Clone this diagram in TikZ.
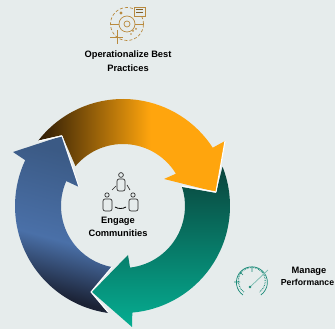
\documentclass[tikz,border=0pt]{standalone}
\usepackage{fontspec}
\setmainfont{Liberation Sans}
\definecolor{bgc}{HTML}{E6ECEC}
\definecolor{oa}{HTML}{2B1A05}
\definecolor{ob}{HTML}{FFA50D}
\definecolor{ga}{HTML}{0A443C}
\definecolor{gb}{HTML}{05AE92}
\definecolor{ba}{HTML}{3B5A85}
\definecolor{bb}{HTML}{4A70A8}
\definecolor{bc}{HTML}{1B2235}
\definecolor{ico}{HTML}{B98A3E}
\definecolor{tealic}{HTML}{1A8A78}
\pgfdeclarehorizontalshading{orangeg}{100bp}{color(0bp)=(oa);color(25bp)=(oa);color(55bp)=(ob);color(100bp)=(ob)}
\pgfdeclareverticalshading{greeng}{100bp}{color(0bp)=(gb);color(25bp)=(gb);color(75bp)=(ga);color(100bp)=(ga)}
\pgfdeclareverticalshading{blueg}{100bp}{color(0bp)=(bc);color(28bp)=(bc);color(45bp)=(bb);color(72bp)=(ba);color(100bp)=(ba)}
\tikzset{
  lbl/.style={font=\bfseries\fontsize{9.3}{11}\selectfont,text=black,inner sep=0pt,align=center},
  edgew/.style={white,line width=1.1pt,line join=round},
  goldic/.style={ico,line width=.7pt},
  blackic/.style={black!85,line width=.65pt},
  gaugeic/.style={tealic,line width=.7pt},
}
\begin{document}
\begin{tikzpicture}[x=1pt,y=1pt]
\fill[bgc] (0,0) rectangle (335,329);
\clip (0,0) rectangle (335,329);
\coordinate (C) at (123,123);
% green arrow
\shade[shading=greeng] ([shift={(21.5:107)}]C) arc[start angle=21.5,end angle=-85,radius=107]
  -- (132,2) -- (92,37) -- (128,74) -- ([shift={(-83.5:62)}]C) arc[start angle=-83.5,end angle=17.8,radius=62]
  -- (216,136) -- cycle;
% blue arrow
\shade[shading=blueg,shading angle=-15] ([shift={(262:108)}]C) arc[start angle=262,end angle=154.9,radius=108]
  -- (13,177) -- (62,193) -- (79,142) -- ([shift={(156.3:62)}]C) arc[start angle=156.3,end angle=259.8,radius=62]
  -- (91,37) -- cycle;
% orange arrow
\shade[shading=orangeg] ([shift={(142.3:107)}]C) arc[start angle=142.3,end angle=33,radius=107]
  -- (225,188) -- (216,137) -- (164,150) -- ([shift={(31.4:62)}]C) arc[start angle=31.4,end angle=140,radius=62]
  -- (62,194) -- cycle;
% white edges of the arrow heads
\draw[edgew] (225,188) -- (216,137) -- (182,143);
\draw[edgew] (62,193) -- (79,142);
\draw[edgew] (39,188) -- (62,193);
\draw[edgew] (112,62) -- (91,37) -- (108,17);
% top icon
\draw[goldic,densely dashed] (127,305) circle[radius=16.5];
\draw[goldic] (127,305) circle[radius=8];
\draw[goldic] (127,305) circle[radius=3];
\draw[goldic] (110,305) -- (119,305) (135,305) -- (144,305);
\fill[ico] (121,316) circle[radius=1.6];
\fill[ico] (133,298) circle[radius=1] (136,300) circle[radius=1] (131,295) circle[radius=.8];
\draw[goldic,fill=bgc] (134,313) rectangle (145,322);
\draw[ico!70!black,line width=.5pt] (136,319.5) -- (143,319.5) (136,317) -- (143,317);
\draw[goldic] (110,292) -- (123,292) (117,285) -- (117,299);
% engage icon
\draw[blackic] (121,154) circle[radius=2.4];
\draw[blackic,rounded corners=2pt] (117,138) rectangle (125,150);
\draw[blackic] (107,134) circle[radius=2.2];
\draw[blackic,rounded corners=2pt] (103,118) rectangle (112,130);
\draw[blackic] (133,134) circle[radius=2.2];
\draw[blackic,rounded corners=2pt] (129,118) rectangle (138,130);
\draw[blackic] (112,139) -- (116,143) (127,144) -- (130,139);
\draw[black,line width=.8pt] (115,122) .. controls (118,120) and (123,120) .. (126,122);
% gauge icon
\draw[gaugeic] (243,34) arc[start angle=235,end angle=-55,radius=15.5];
\draw[gaugeic,densely dotted,line width=1pt] (244,37) arc[start angle=235,end angle=-55,radius=13.5];
\draw[gaugeic] (252,62) -- (252,57) (234,47) -- (240,47) (240,57) -- (243,54);
\draw[tealic!60,line width=.7pt] (250,42) -- (268,59);
\fill[tealic] (250,42) circle[radius=1.4];
% labels
\node[lbl] (t1a) at (128,273.5) {Operationalize Best};
\node[lbl] (t1b) at (128,261) {Practices};
\node[lbl] (t2a) at (118,108) {Engage};
\node[lbl] (t2b) at (118,96) {Communities};
\node[lbl] (t3a) at (309,58) {Manage};
\node[lbl,font=\bfseries\fontsize{8.7}{11}\selectfont] (t3b) at (307.5,47) {Performance};
\end{tikzpicture}
\end{document}
